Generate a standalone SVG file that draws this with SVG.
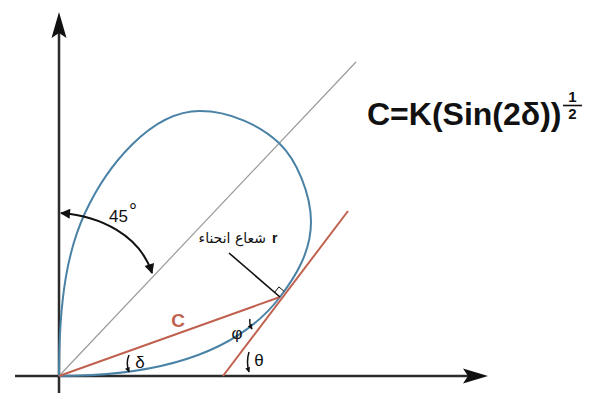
<svg xmlns="http://www.w3.org/2000/svg" width="591" height="399" viewBox="0 0 591 399">
<defs>
<style>
.axis{stroke:#2b2b2b;stroke-width:2.5;fill:none}
.curve{stroke:#4a82a6;stroke-width:2;fill:none}
.red{stroke:#c0614f;stroke-width:2;fill:none}
.thin{stroke:#9a9a9a;stroke-width:1.2;fill:none}
.blk{stroke:#111;stroke-width:1.6;fill:none}
.lbl{font-family:"Liberation Sans",Arial,sans-serif;fill:#111}
</style>
<marker id="ah" viewBox="0 0 10 10" refX="9" refY="5" markerWidth="13" markerHeight="10" markerUnits="userSpaceOnUse" orient="auto-start-reverse">
<path d="M0,0 L10,5 L0,10 z" fill="#111"/>
</marker>
<marker id="sa" viewBox="0 0 10 10" refX="9" refY="5" markerWidth="6" markerHeight="5" markerUnits="userSpaceOnUse" orient="auto">
<path d="M0,0 L10,5 L0,10 z" fill="#111"/>
</marker>
</defs>
<rect width="591" height="399" fill="#fff"/>
<g id="axes">
<line class="axis" x1="15" y1="376" x2="470" y2="376"/>
<polygon points="488,376 463,368.5 468,376 463,383.5" fill="#111"/>
<line class="axis" x1="59" y1="393" x2="59" y2="30"/>
<polygon points="59,12 51.5,38 59,33 66.5,38" fill="#111"/>
</g>
<g id="connectors">
<line id="diagonal" class="thin" x1="59" y1="376" x2="356" y2="62"/>
<path id="curve" class="curve" d="M59,376 C160,376 237.6,352.7 280,297 C295.2,277.1 311,252 311,222 C311,195 297.1,160.2 279,143 C260.9,125.8 230,111 200,111 C150,111 106,167.6 85,213 C68.2,249.3 59,296 59,376"/>
<line id="chord" class="red" x1="59" y1="376" x2="280" y2="297"/>
<line id="tangent" class="red" x1="223" y1="376" x2="348" y2="211"/>
<line id="normal" class="blk" x1="229" y1="253" x2="280" y2="297"/>
<path id="rightangle" d="M274.7,292.4 L278.9,286.9 L284.2,291.4" fill="none" stroke="#111" stroke-width="1"/>
<path id="arc45" d="M61,213 C100,216 140,235 152,273" fill="none" stroke="#111" stroke-width="2" marker-start="url(#ah)" marker-end="url(#ah)"/>
<path id="arr-delta" d="M129,355 Q125.5,363 129,372" fill="none" stroke="#111" stroke-width="1.5" marker-end="url(#sa)"/>
<path id="arr-phi" d="M250,319 Q249,324 252,329" fill="none" stroke="#111" stroke-width="1.5" marker-end="url(#sa)"/>
<path id="arr-theta" d="M249,352 Q246,362 249,372" fill="none" stroke="#111" stroke-width="1.5" marker-end="url(#sa)"/>
</g>
<g id="formula">
<text class="lbl" x="367" y="125" font-size="32" font-weight="bold">C=K(Sin(2δ))</text>
<text class="lbl" x="572.5" y="102" font-size="15" font-weight="bold" text-anchor="middle">1</text>
<line x1="563" y1="105.5" x2="582" y2="105.5" stroke="#111" stroke-width="1.6"/>
<text class="lbl" x="572.5" y="119" font-size="15" font-weight="bold" text-anchor="middle">2</text>
</g>
<g id="label-45">
<text class="lbl" x="109" y="222" font-size="17">45<tspan dx="1" dy="-4" font-size="20">°</tspan></text>
</g>
<g id="label-r">
<text class="lbl" x="272" y="243" font-size="14" font-weight="bold">r</text>
<text x="266" y="243" font-size="14" text-anchor="end" font-family="'DejaVu Sans',sans-serif" fill="#111">شعاع انحناء</text>
</g>
<g id="label-C">
<text x="178" y="327" font-size="19" font-weight="bold" text-anchor="middle" font-family="'Liberation Sans',Arial,sans-serif" fill="#c0614f">C</text>
</g>
<g id="label-delta"><text class="lbl" x="140" y="368" font-size="17" text-anchor="middle">δ</text></g>
<g id="label-phi"><text class="lbl" x="237" y="339" font-size="17" text-anchor="middle">φ</text></g>
<g id="label-theta"><text class="lbl" x="259" y="366" font-size="17" text-anchor="middle">θ</text></g>
</svg>
